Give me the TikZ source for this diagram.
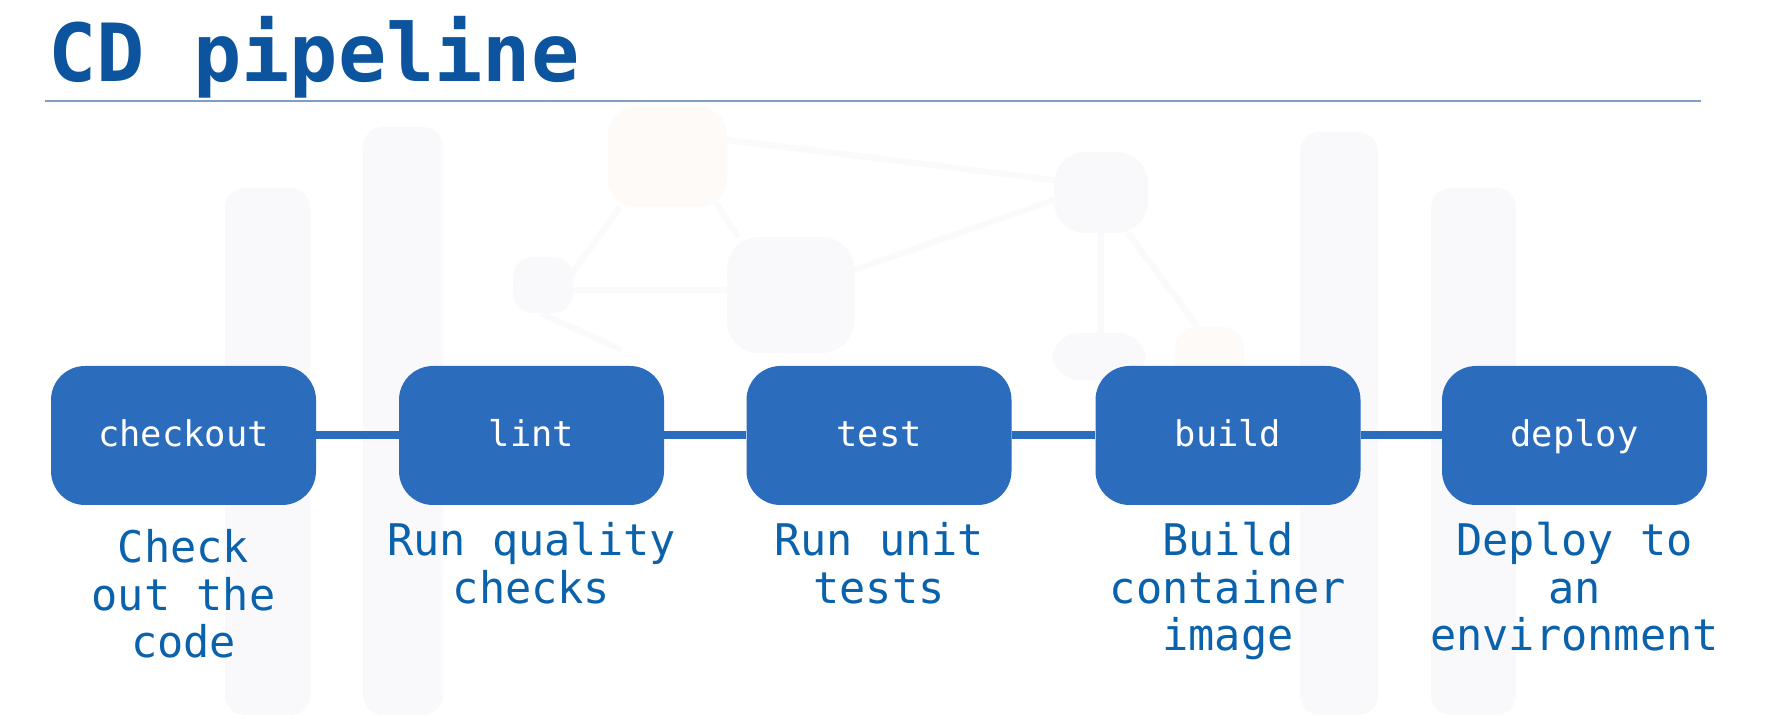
\documentclass[tikz,border=0pt]{standalone}
\usepackage{fontspec}
\newfontfamily\monofont{DejaVu Sans Mono}
\definecolor{stageblue}{RGB}{43,108,189}
\definecolor{titleblue}{RGB}{12,85,158}
\definecolor{descblue}{RGB}{11,98,172}
\definecolor{rulecol}{RGB}{128,158,194}
\definecolor{ghost}{RGB}{249,249,251}
\definecolor{ghostline}{RGB}{250,250,251}
\definecolor{ghostwarm}{RGB}{254,250,247}
\begin{document}
\begin{tikzpicture}[x=0.5pt,y=-0.5pt,
  stagebox/.style={fill=stageblue, draw=none, rounded corners=17pt,
    minimum width=132.5pt, minimum height=69.5pt, inner sep=0pt,
    text=white, font=\monofont\fontsize{17.7}{20}\selectfont,
    text height=14pt, text depth=2.74pt},
  link/.style={draw=stageblue, line width=4pt},
  desc/.style={text=descblue, align=center, inner sep=0pt, anchor=north,
    font=\monofont\fontsize{21.8}{23.75}\selectfont},
  ghostbar/.style={fill=ghost, draw=none, rounded corners=10pt},
  ghostedge/.style={draw=ghostline, line width=3pt}]

% canvas
\fill[white] (0,0) rectangle (1766,715);
\useasboundingbox (0,0) rectangle (1766,715);

% faint backdrop: bars and a small network
\fill[ghostbar] (225,715) |- (310,188) -- (310,715) -- cycle;
\fill[ghostbar] (363,715) |- (443,127) -- (443,715) -- cycle;
\fill[ghostbar] (1300,715) |- (1378,132) -- (1378,715) -- cycle;
\fill[ghostbar] (1431,715) |- (1516,188) -- (1516,715) -- cycle;
\draw[ghostedge] (560,290) -- (620,207);
\draw[ghostedge] (573,290) -- (727,290);
\draw[ghostedge] (540,313) -- (622,350);
\draw[ghostedge] (716,203) -- (738,237);
\draw[ghostedge] (727,140) -- (1054,180);
\draw[ghostedge] (854,270) -- (1054,200);
\draw[ghostedge] (1101,233) -- (1101,340);
\draw[ghostedge] (1128,233) -- (1200,330);
\fill[ghostwarm, rounded corners=14pt] (608,107) rectangle (727,207);
\fill[ghost, rounded corners=10pt] (513,257) rectangle (573,313);
\fill[ghost, rounded corners=16pt] (727,237) rectangle (854,353);
\fill[ghost, rounded corners=16pt] (1054,152) rectangle (1148,233);
\fill[ghost, rounded corners=14pt] (1052,333) rectangle (1146,380);
\fill[ghostwarm, rounded corners=10pt] (1175,327) rectangle (1244,380);

% heading and rule
\node[anchor=base west, inner sep=0pt, text=titleblue,
  font=\monofont\bfseries\fontsize{40.1}{44}\selectfont] (title) at (48,82) {CD pipeline};
\coordinate (ruleL) at (45,101);
\coordinate (ruleR) at (1701,101);
\draw[rulecol, line width=1pt] (ruleL) -- (ruleR);

% pipeline stages
\node[stagebox] (checkout) at (183.5,435.5) {checkout};
\node[stagebox] (lint)     at (531.5,435.5) {lint};
\node[stagebox] (test)     at (879,435.5)   {test};
\node[stagebox] (build)    at (1228,435.5)  {build};
\node[stagebox] (deploy)   at (1574.5,435.5){deploy};

\draw[link] (checkout) -- (lint);
\draw[link] (lint) -- (test);
\draw[link] (test) -- (build);
\draw[link] (build) -- (deploy);

% stage descriptions
\node[desc] (dcheckout) at (183.5,529) {Check\\out the\\code};
\node[desc] (dlint)     at (531.5,522) {Run quality\\checks};
\node[desc] (dtest)     at (879,522)   {Run unit\\tests};
\node[desc] (dbuild)    at (1228,522)  {Build\\container\\image};
\node[desc] (ddeploy)   at (1574.5,522){Deploy to\\an\\environment};
\end{tikzpicture}
\end{document}
